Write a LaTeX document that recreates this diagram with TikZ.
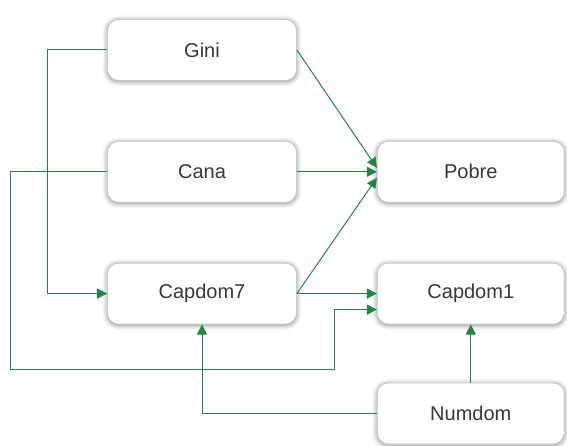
\documentclass[tikz,border=0pt]{standalone}
\usepackage{fontspec}
\setmainfont{Liberation Sans}
\usepackage{tikz}
\usetikzlibrary{positioning, arrows.meta, shadows.blur}

\definecolor{linkgreen}{RGB}{30,135,65}
\definecolor{labelgray}{RGB}{55,55,55}

\begin{document}
\begin{tikzpicture}[>={Triangle[length=10pt,width=10pt]}, node distance=60pt and 80pt,
  var/.style={draw=black!22,line width=0.8pt,rounded corners=11pt,fill=white,
    minimum width=189pt,minimum height=61pt,align=center,text=labelgray,
    font=\fontsize{20}{24}\selectfont,
    blur shadow={shadow xshift=0pt,shadow yshift=-1pt,shadow blur radius=5pt,shadow opacity=50}},
  link/.style={->,draw=linkgreen,line width=1pt}]
  \useasboundingbox (0,0) rectangle (567pt,-446pt);
  \node[var] at (202pt,-50pt) (gini) {Gini};
  \node[var,below=of gini] (cana) {Cana};
  \node[var,below=of cana] (capdom7) {Capdom7};
  \node[var,minimum width=187pt,right=of cana] (pobre) {Pobre};
  \node[var,minimum width=187pt,below=of pobre] (capdom1) {Capdom1};
  \node[var,minimum width=187pt,below=58pt of capdom1] (numdom) {Numdom};
  \draw[link] (gini.west) -- ++(-60pt,0) |- (capdom7.west);
  \draw[link] (cana.west) -- ++(-97pt,0) |- ([xshift=-42pt,yshift=-76pt]capdom1.west) |- ([yshift=-16pt]capdom1.west);
  \draw[link] (gini.east) -- ([yshift=4pt]pobre.west);
  \draw[link] (cana.east) -- (pobre.west);
  \draw[link] (capdom7.east) -- ([yshift=-6pt]pobre.west);
  \draw[link] (capdom7.east) -- (capdom1.west);
  \draw[link] (numdom.west) -| (capdom7.south);
  \draw[link] (numdom.north) -- (capdom1.south);
\end{tikzpicture}
\end{document}
